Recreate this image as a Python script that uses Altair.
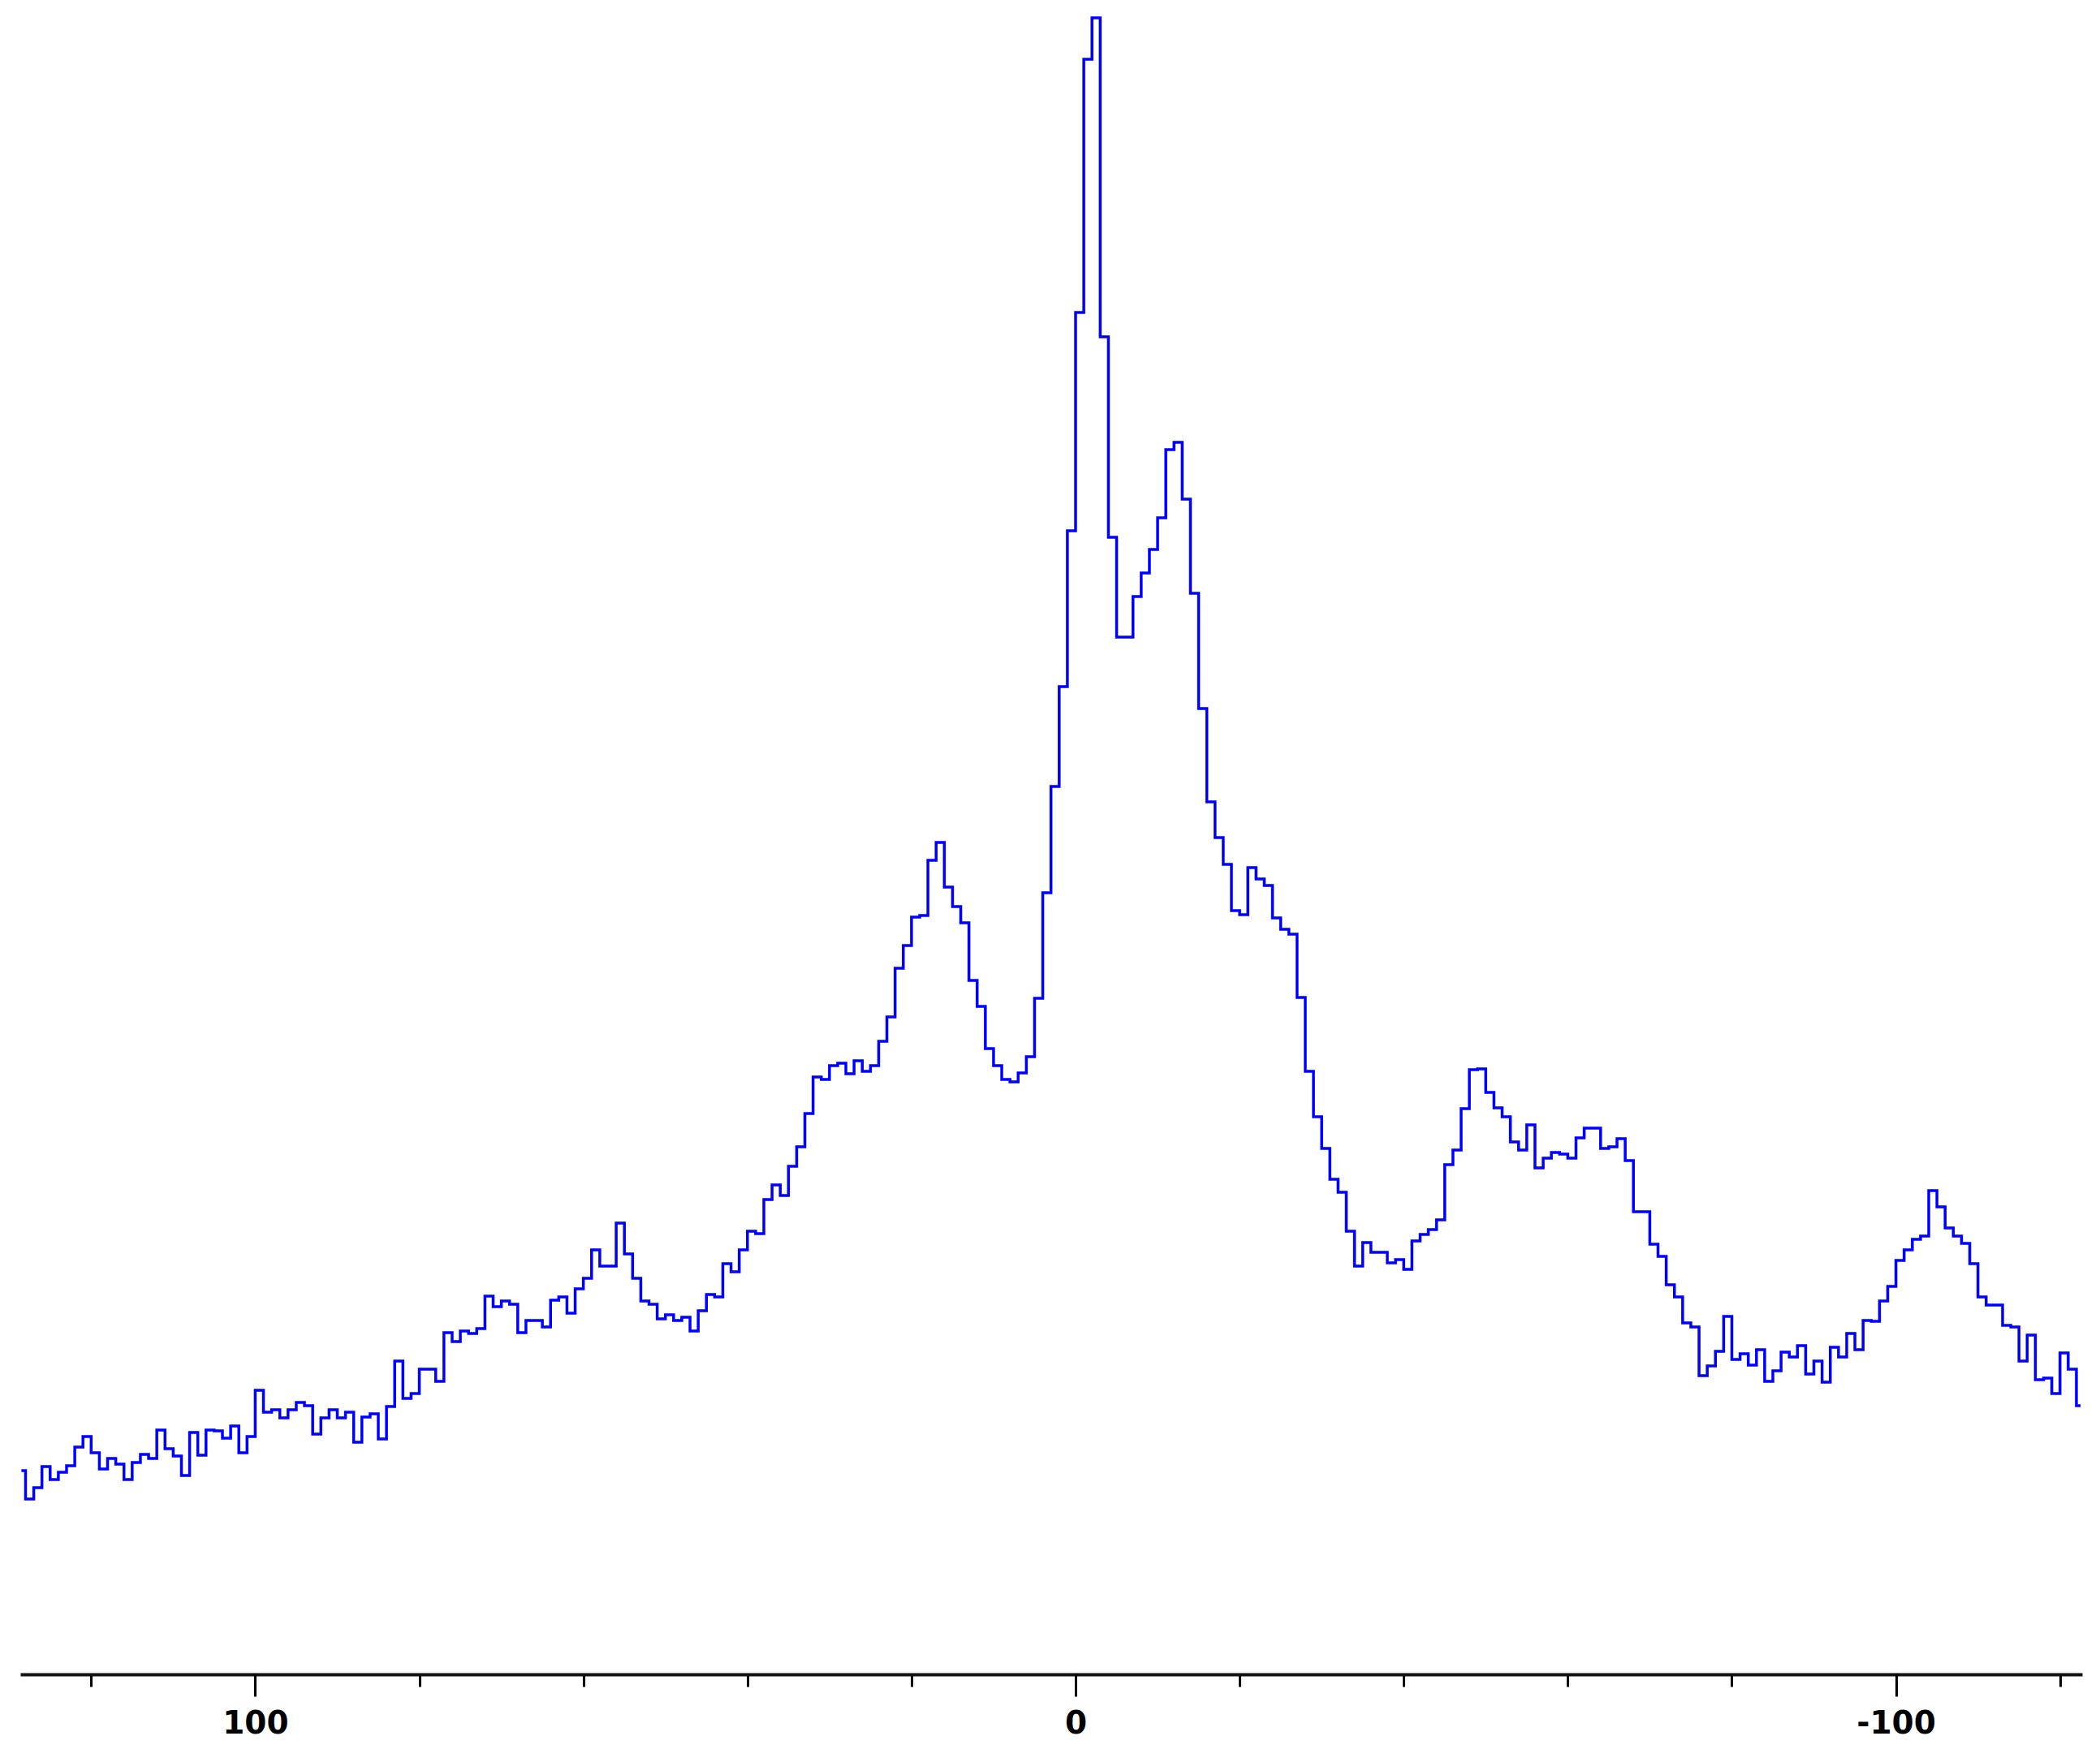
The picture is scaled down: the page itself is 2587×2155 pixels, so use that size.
import altair as alt
import pandas as pd

# Chemical shift grid (ppm), 1 ppm spacing, from high to low field
ppm_start = 128.5
ppm_step = 1.0

# Intensity (arbitrary units)
intensity = [
    251, 216, 230, 256, 240, 249, 257, 280, 293, 273, 253, 266, 259, 240, 261, 271,
    266, 301, 278, 269, 245, 298, 270, 301, 300, 291, 306, 273, 293, 350, 323, 326, 316,
    326, 335, 331, 296, 316, 326, 316, 323, 286, 317, 321, 290, 330, 386, 340, 346,
    376, 376, 361, 421, 410, 423, 420, 426, 466, 453, 460, 456, 421, 436, 436,
    428, 461, 465, 445, 475, 488, 523, 503, 503, 556, 518, 488, 460, 456, 438, 443,
    436, 440, 423, 448, 468, 465, 506, 496, 523, 546, 543, 585, 603, 590, 626, 650,
    691, 736, 733, 750, 753, 740, 756, 743, 750, 780, 810, 870, 898, 933, 935, 1003,
    1025, 970, 946, 926, 855, 823, 771, 750, 733, 730, 741, 761, 833, 963,
    1094, 1217, 1409, 1678, 1990, 2041, 1648, 1401, 1278, 1278, 1328, 1357, 1386, 1425,
    1509, 1518, 1448, 1332, 1190, 1075, 1031, 998, 941, 936, 994, 980, 972, 932, 918,
    912, 834, 743, 687, 648, 610, 594, 546, 503, 532, 520, 520, 507, 511, 499, 534,
    542, 548, 560, 628, 646, 697, 745, 746, 717, 698, 687, 656, 646, 677, 624, 636,
    643, 641, 636, 661, 673, 673, 648, 650, 660, 633, 570, 570, 530, 515, 480, 465,
    433, 428, 368, 380, 398, 441, 388, 395, 381, 400, 361, 374, 397, 391, 405, 370,
    386, 360, 403, 391, 420, 400, 436, 435, 460, 478, 510, 523, 536, 540, 596, 576,
    550, 540, 531, 506, 465, 455, 455, 430, 428, 386, 418, 363, 365, 346, 396, 376, 331,
]
ppm = [ppm_start - i * ppm_step for i in range(len(intensity))]

minor_ticks = [120, 100, 80, 60, 40, 20, 0, -20, -40, -60, -80, -100, -120]
major_ticks = [100, 0, -100]

df = pd.DataFrame({"ppm": ppm, "intensity": intensity})

xscale = alt.Scale(domain=[128.64, -122.70], nice=False, zero=False)
yscale = alt.Scale(domain=[0, 2053], nice=False, zero=False)

line = alt.Chart(df).mark_line(
    interpolate="step", color="#0000ff", strokeWidth=3.5
).encode(
    x=alt.X("ppm:Q", scale=xscale,
            axis=alt.Axis(orient="bottom", values=minor_ticks, tickSize=15, tickWidth=3,
                          tickColor="black", labels=False, title=None,
                          domain=True, domainWidth=4, domainColor="#111111",
                          grid=False)),
    y=alt.Y("intensity:Q", scale=yscale, axis=None),
)

labels_layer = alt.Chart(df).mark_line(
    interpolate="step", color="#0000ff", strokeWidth=3, strokeOpacity=0
).encode(
    x=alt.X("ppm:Q", scale=xscale,
            axis=alt.Axis(orient="bottom", values=major_ticks, tickSize=27, tickWidth=3,
                          tickColor="black", domain=False, grid=False, title=None,
                          labelFont="DejaVu Sans", labelFontSize=39,
                          labelFontWeight="bold", labelColor="black",
                          labelPadding=14,
                          labelExpr="datum.value < 0 ? '-' + format(-datum.value, 'd') : format(datum.value, 'd')")),
    y=alt.Y("intensity:Q", scale=yscale, axis=None),
)

chart = alt.layer(line, labels_layer).resolve_axis(x="independent").properties(
    width=2540,
    height=2053,
    background="white",
    autosize=alt.AutoSizeParams(type="none"),
    padding={"left": 17, "top": 2, "right": 14, "bottom": 84},
).configure_view(strokeWidth=0, stroke="transparent")

chart.save("out.html", embed_options={"renderer": "svg", "actions": False})
